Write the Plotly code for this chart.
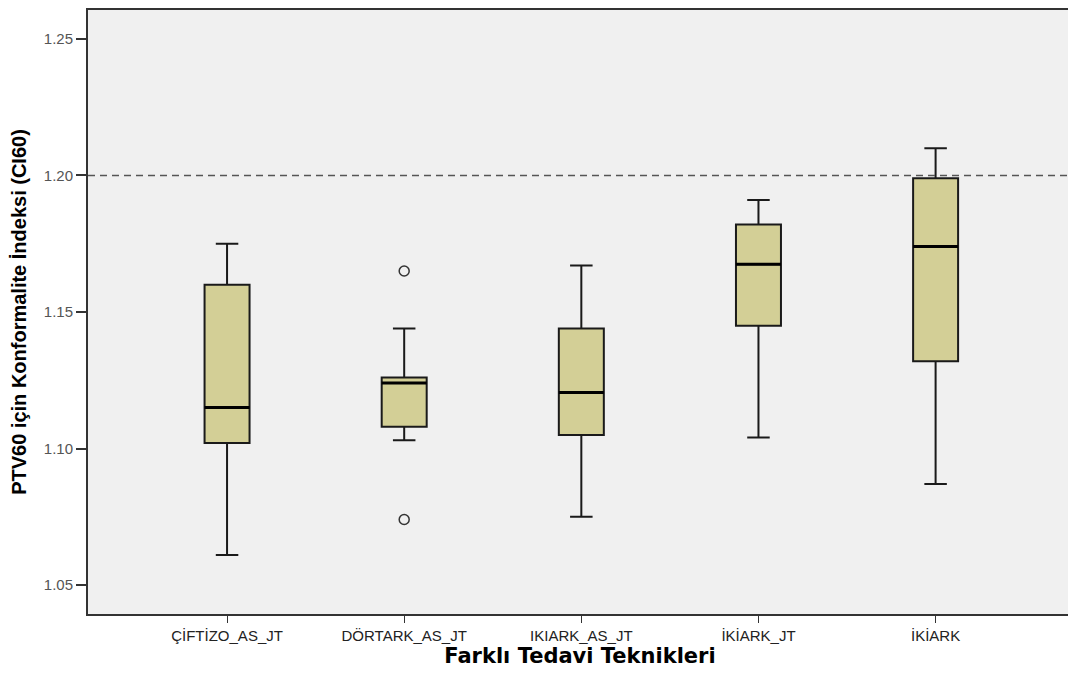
import plotly.graph_objects as go

categories = ["ÇİFTİZO_AS_JT", "DÖRTARK_AS_JT", "IKIARK_AS_JT", "İKİARK_JT", "İKİARK"]
lower_whisker = [1.061, 1.103, 1.075, 1.104, 1.087]
q1_vals = [1.102, 1.108, 1.105, 1.145, 1.132]
median_vals = [1.115, 1.124, 1.1205, 1.1675, 1.174]
q3_vals = [1.160, 1.126, 1.144, 1.182, 1.199]
upper_whisker = [1.175, 1.144, 1.167, 1.191, 1.210]
outlier_cat = [1, 1]
outlier_vals = [1.165, 1.074]
ref_value = 1.20
y_ticks = [1.05, 1.10, 1.15, 1.20, 1.25]

positions = list(range(len(categories)))
box_w = 0.254

fig = go.Figure()
fig.add_trace(go.Box(
    x=positions, q1=q1_vals, median=median_vals, q3=q3_vals,
    lowerfence=lower_whisker, upperfence=upper_whisker,
    width=box_w, whiskerwidth=0.5,
    fillcolor="#d3cf96", line=dict(color="#1a1a1a", width=2),
    boxpoints=False, showlegend=False, hoverinfo="skip",
))
# thicker median lines
for p, m in zip(positions, median_vals):
    fig.add_trace(go.Scatter(
        x=[p - box_w / 2, p + box_w / 2], y=[m, m], mode="lines",
        line=dict(color="#000000", width=3), showlegend=False, hoverinfo="skip",
    ))
fig.add_trace(go.Scatter(
    x=[positions[i] for i in outlier_cat], y=outlier_vals, mode="markers",
    marker=dict(symbol="circle-open", size=10, color="#333333", line=dict(width=1.5)),
    showlegend=False, hoverinfo="skip",
))
fig.add_hline(y=ref_value, line=dict(color="#555555", width=1.5, dash="7px,5px"))

fig.update_layout(
    width=1076, height=673,
    margin=dict(l=80, r=12, t=0, b=67),
    paper_bgcolor="white", plot_bgcolor="#f0f0f0",
    font=dict(family="Liberation Sans, Arial, sans-serif", color="#000"),
)
fig.update_xaxes(
    range=[-0.785, 4.77], tickvals=positions, ticktext=categories,
    showgrid=False, zeroline=False,
    showline=True, linecolor="#333333", linewidth=2, mirror=True,
    ticks="outside", ticklen=7, tickcolor="#333333", tickwidth=1,
    tickfont=dict(size=15, color="#222222"),
    title=dict(text="<b>Farklı Tedavi Teknikleri</b>",
               font=dict(size=21, family="DejaVu Sans, sans-serif"), standoff=3),
)
fig.update_yaxes(
    range=[1.0394, 1.2606], tickvals=y_ticks, ticktext=[f"{v:.2f}" for v in y_ticks],
    showgrid=False, zeroline=False,
    showline=True, linecolor="#333333", linewidth=2, mirror=True,
    ticks="outside", ticklen=10, tickcolor="#333333", tickwidth=1.5,
    tickfont=dict(size=15, color="#555555"),
    title=dict(text="<b>PTV60 için Konformalite İndeksi (CI60)</b>",
               font=dict(size=20, family="Liberation Sans Narrow, Arial Narrow, Liberation Sans, sans-serif"),
               standoff=12),
)
fig.write_html("out.html")
